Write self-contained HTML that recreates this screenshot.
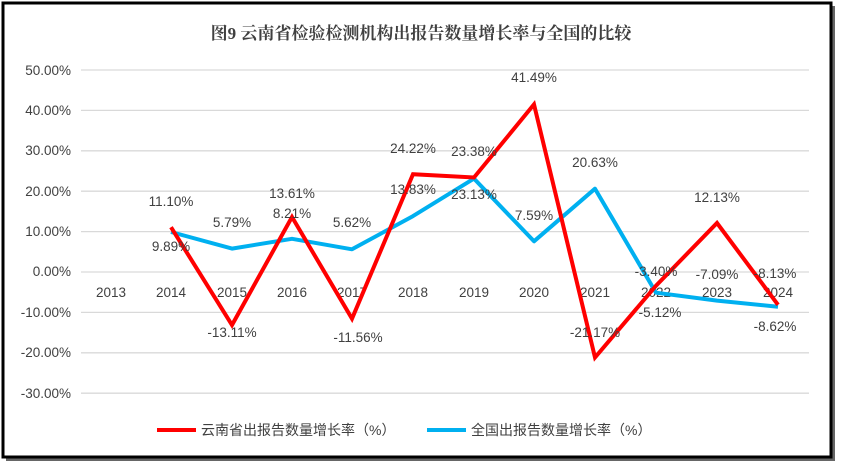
<!DOCTYPE html>
<html><head><meta charset="utf-8"><style>
body{margin:0;background:#fff;width:843px;height:469px;overflow:hidden}
svg text{font-family:"Liberation Sans","Noto Sans CJK SC",sans-serif;fill:#404040}
</style></head><body>
<svg width="843" height="469" xmlns="http://www.w3.org/2000/svg">
<rect x="6" y="6" width="829" height="455" fill="#666"/>
<rect x="3" y="3" width="828" height="454" fill="#fff" stroke="#000" stroke-width="3"/>
<text x="421" y="39" text-anchor="middle" font-size="17" font-weight="bold" style="font-family:'Liberation Serif','Noto Serif CJK SC',serif" fill="#404040">图9  云南省检验检测机构出报告数量增长率与全国的比较</text>
<g stroke="#d9d9d9" stroke-width="1.3">
<line x1="81" x2="809" y1="70" y2="70"/><line x1="81" x2="809" y1="110.4" y2="110.4"/>
<line x1="81" x2="809" y1="150.8" y2="150.8"/><line x1="81" x2="809" y1="191.2" y2="191.2"/>
<line x1="81" x2="809" y1="231.6" y2="231.6"/><line x1="81" x2="809" y1="272" y2="272"/>
<line x1="81" x2="809" y1="312.4" y2="312.4"/><line x1="81" x2="809" y1="352.8" y2="352.8"/>
<line x1="81" x2="809" y1="393.2" y2="393.2"/>
</g>
<g font-size="13.5" text-anchor="end">
<text x="71" y="75">50.00%</text><text x="71" y="115">40.00%</text><text x="71" y="155">30.00%</text>
<text x="71" y="196">20.00%</text><text x="71" y="236">10.00%</text><text x="71" y="276">0.00%</text>
<text x="71" y="317">-10.00%</text><text x="71" y="357">-20.00%</text><text x="71" y="398">-30.00%</text>
</g>
<g font-size="13.5" text-anchor="middle">
<text x="111" y="297">2013</text><text x="171" y="297">2014</text><text x="232" y="297">2015</text>
<text x="292" y="297">2016</text><text x="352" y="297">2017</text><text x="413" y="297">2018</text>
<text x="474" y="297">2019</text><text x="534" y="297">2020</text><text x="595" y="297">2021</text>
<text x="656" y="297">2022</text><text x="717" y="297">2023</text><text x="778" y="297">2024</text>
</g>
<polyline fill="none" stroke="#00b0f0" stroke-width="4" stroke-linejoin="round" points="171,232 232,248.6 292,238.8 352,249.3 413,216.1 474,178.6 534,241.3 595,188.7 656,292.7 717,300.6 778,306.8"/>
<polyline fill="none" stroke="#ff0000" stroke-width="4" stroke-linejoin="miter" points="171,227.2 232,325 292,217 352,318.7 413,174.2 474,177.5 534,104.4 595,357.5 656,285.7 717,223 778,304.8"/>
<g font-size="13.5" text-anchor="middle">
<text x="171" y="206">11.10%</text><text x="171" y="251">9.89%</text>
<text x="232" y="227">5.79%</text><text x="232" y="337">-13.11%</text>
<text x="292" y="198">13.61%</text><text x="292" y="218">8.21%</text>
<text x="352" y="227">5.62%</text><text x="358" y="342">-11.56%</text>
<text x="413" y="153">24.22%</text><text x="413" y="194">13.83%</text>
<text x="474" y="156">23.38%</text><text x="474" y="199">23.13%</text>
<text x="534" y="82">41.49%</text><text x="534" y="220">7.59%</text>
<text x="595" y="167">20.63%</text><text x="595" y="337">-21.17%</text>
<text x="656" y="276">-3.40%</text><text x="660" y="317">-5.12%</text>
<text x="717" y="202">12.13%</text><text x="717" y="279">-7.09%</text>
<text x="775" y="278">-8.13%</text><text x="775" y="331">-8.62%</text>
</g>
<line x1="157" x2="196" y1="430" y2="430" stroke="#ff0000" stroke-width="4"/>
<text x="201" y="435" font-size="14">云南省出报告数量增长率（%）</text>
<line x1="427" x2="466" y1="430" y2="430" stroke="#00b0f0" stroke-width="4"/>
<text x="471" y="435" font-size="14">全国出报告数量增长率（%）</text>
</svg>
</body></html>
